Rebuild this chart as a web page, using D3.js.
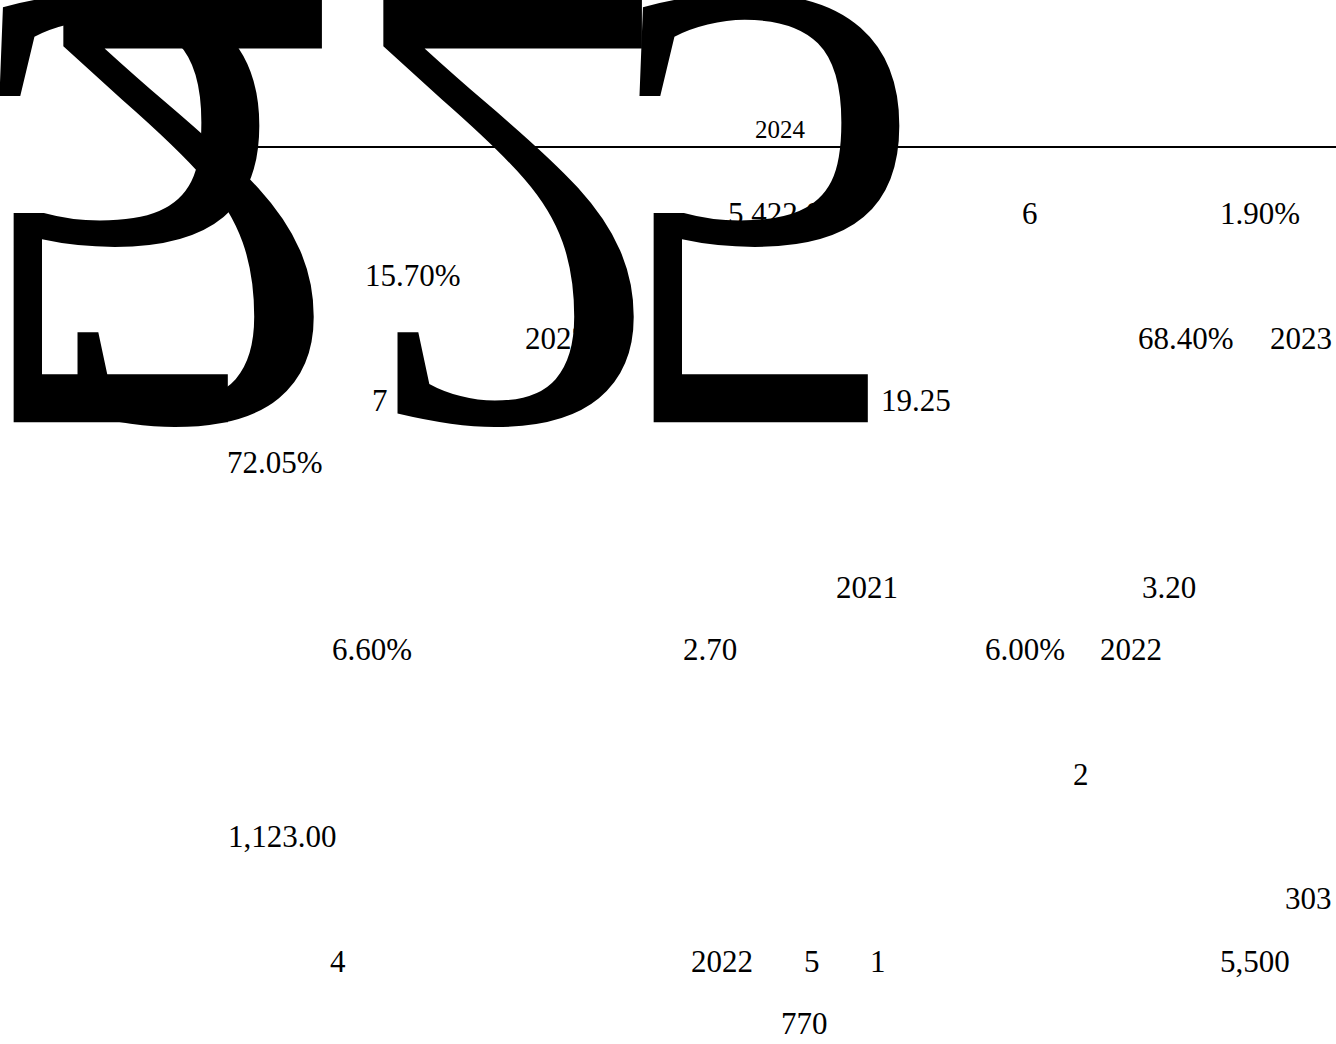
<!DOCTYPE html>
<html><head><meta charset="utf-8">
<script src="https://cdn.jsdelivr.net/npm/d3@7"></script>
<style>body{margin:0;background:#fff;overflow:hidden}</style>
</head><body>
<svg id="c" width="1336" height="1044"></svg>
<script>
// ---- data ----
const labelText = ["5,422.00","6","1.90%","15.70%","2022","68.40%","2023","7","19.25","72.05%",
  "2021","3.20","6.60%","2.70","6.00%","2022","2","1,123.00","303","4","2022","5","1","5,500","770"];
const labelRow  = [0,0,0,1,2,2,2,3,3,4,6,6,7,7,7,7,9,10,11,12,12,12,12,12,13];
const labelCol  = [728,1022,1220,365,525,1138,1270,372,881,227,836,1142,332,683,985,1100,1073,228,1285,330,691,804,870,1220,781];
const titleText = "2024";
const bigGlyphs = ["5","2","2","5"];
const bigGlyphCol = [-38,35,355,602];

// ---- layout ----
const W = 1336, H = 1044;
const svg = d3.select("#c");
const x = d3.scaleLinear().domain([0, W]).range([0, W]);
const y = d3.scaleLinear().domain([0, 13]).range([224, 1034]);
const font = "'Liberation Serif','Times New Roman',serif";

svg.append("g").selectAll("text").data(labelText).join("text")
  .attr("x", (d,i)=>x(labelCol[i])).attr("y", (d,i)=>y(labelRow[i]))
  .attr("font-family", font).attr("font-size", 31).attr("fill", "#000")
  .text(d=>d);

svg.append("line").attr("x1", x(227)).attr("x2", x(1336)).attr("y1", 147).attr("y2", 147)
  .attr("stroke", "#000").attr("stroke-width", 2);
svg.append("text").attr("x", x(780)).attr("y", 138).attr("text-anchor", "middle")
  .attr("font-family", font).attr("font-size", 25).text(titleText);

const gg = svg.append("g");
bigGlyphs.forEach((c,i)=>{
  gg.append("g").attr("transform", `translate(${x(bigGlyphCol[i])},0) scale(1,-1)`)
    .append("text").attr("x",0).attr("y",0).attr("font-family", font).attr("font-size", 645)
    .attr("fill","#000").text(c);
});
</script>
</body></html>
